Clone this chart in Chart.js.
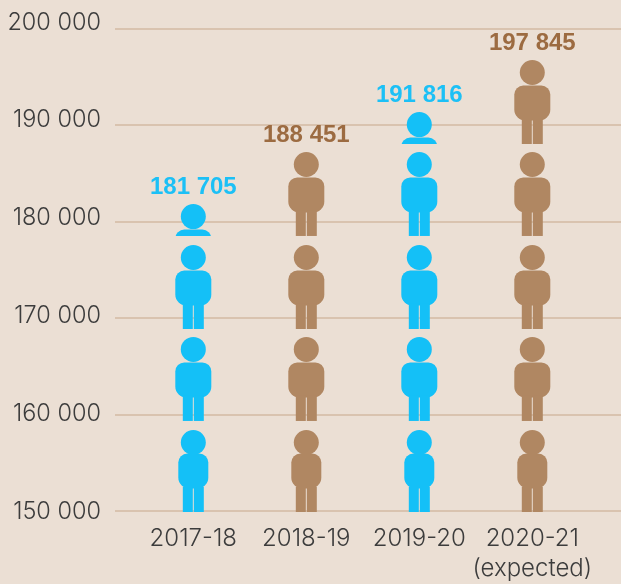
<!DOCTYPE html>
<html>
<head>
<meta charset="utf-8">
<style>
  html, body { margin: 0; padding: 0; background: #ebdfd4; }
  canvas { display: block; }
</style>
<script src="https://cdn.jsdelivr.net/npm/chart.js@4"></script>
</head>
<body>
<canvas id="chart" width="621" height="584"></canvas>
<script>
const years = ['2017-18', '2018-19', '2019-20', ['2020-21', '(expected)']];
const students = [181705, 188451, 191816, 197845];
// how many figures each column shows, the fraction is a cut off figure
const figures = [3.38, 4, 4.38, 5];
const axisTicks = [150000, 160000, 170000, 180000, 190000, 200000];
// feet of each row of figures, in axis units
const rowFloors = [150000, 159340, 168880, 178530, 188070];

const BLUE = '#14c0f7';
const BROWN = '#b08762';
const iconColors = [BLUE, BROWN, BLUE, BROWN];
const textColors = ['#1cc0f6', '#9c6b41', '#1cc0f6', '#9c6b41'];

const spaced = v => String(v).replace(/\B(?=(\d{3})+$)/, ' ');

// one figure, y is where the feet are
function drawFigure(ctx, x, y, small) {
    const halfBody = small ? 15 : 18;
    const headY = small ? y - 69.5 : y - 71.5;
    ctx.beginPath();
    ctx.arc(x, headY, 12.5, 0, Math.PI * 2);
    ctx.fill();
    ctx.beginPath();
    ctx.roundRect(x - halfBody, y - 58.5, halfBody * 2, 35, [9, 9, 11, 11]);
    ctx.fill();
    ctx.fillRect(x - 10.5, y - 25, 10, 25);
    ctx.fillRect(x + 0.5, y - 25, 10, 25);
}

const figurePlugin = {
    id: 'figures',
    afterDatasetsDraw(chart) {
        const ctx = chart.ctx;
        const y = chart.scales.y;
        chart.getDatasetMeta(0).data.forEach((bar, i) => {
            const whole = Math.floor(figures[i]);
            const part = figures[i] - whole;
            let top = 0;
            ctx.save();
            ctx.fillStyle = iconColors[i];
            for (let r = 0; r < whole; r++) {
                const py = y.getPixelForValue(rowFloors[r]) + (r === 0 ? 1 : 0);
                drawFigure(ctx, bar.x, py, r === 0);
                top = py - 84;
            }
            if (part > 0) {
                const floor = y.getPixelForValue(rowFloors[whole]);
                ctx.save();
                ctx.beginPath();
                ctx.rect(bar.x - 30, floor - 84, 60, 84);
                ctx.clip();
                drawFigure(ctx, bar.x, floor + (1 - part) * 84, false);
                ctx.restore();
                top = floor - part * 84;
            }
            ctx.fillStyle = textColors[i];
            ctx.font = 'bold 24px "Liberation Sans", Arial, sans-serif';
            ctx.textAlign = 'center';
            ctx.textBaseline = 'middle';
            ctx.fillText(spaced(students[i]), bar.x, top - 16.5);
            ctx.restore();
        });
    }
};

new Chart(document.getElementById('chart').getContext('2d'), {
    type: 'bar',
    data: {
        datasets: [{
            data: students.map((v, i) => ({ x: i, y: v })),
            backgroundColor: 'transparent',
            borderWidth: 0
        }]
    },
    options: {
        responsive: false,
        animation: false,
        layout: { padding: { top: 10 } },
        plugins: { legend: { display: false }, tooltip: { enabled: false } },
        scales: {
            x: {
                type: 'linear',
                offset: false,
                min: -0.693,
                max: 3.785,
                grid: { display: false, drawTicks: false },
                border: { display: false },
                afterBuildTicks: s => { s.ticks = years.map((_, i) => ({ value: i })); },
                afterFit: s => { s.height = 73; s.paddingLeft = 0; s.paddingRight = 0; },
                ticks: {
                    autoSkip: false,
                    maxRotation: 0,
                    padding: 13,
                    color: '#3c3c3c',
                    font: { family: 'Inter', weight: 300, size: 24, lineHeight: 1.25 },
                    callback: v => years[v]
                }
            },
            // carries the grid lines and the figures
            y: {
                position: 'left',
                min: 150000,
                max: 201970,
                afterBuildTicks: s => { s.ticks = axisTicks.map(v => ({ value: v })); },
                afterFit: s => { s.width = 0; s.paddingTop = 0; s.paddingBottom = 0; },
                grid: { color: '#d9c3af', lineWidth: 2, drawTicks: false },
                border: { display: false },
                ticks: { display: false }
            },
            // the printed labels run on a slightly different spacing than the lines
            yLabels: {
                position: 'left',
                min: 149898,
                max: 201125,
                afterBuildTicks: s => { s.ticks = axisTicks.map(v => ({ value: v })); },
                afterFit: s => { s.width = 115; s.paddingTop = 0; s.paddingBottom = 0; },
                grid: { display: false, drawTicks: false },
                border: { display: false },
                ticks: {
                    padding: 14,
                    labelOffset: 1.5,
                    color: '#3c3c3c',
                    font: { family: 'Inter', weight: 300, size: 23.5 },
                    callback: v => spaced(v)
                }
            }
        }
    },
    plugins: [figurePlugin]
});
</script>
</body>
</html>
